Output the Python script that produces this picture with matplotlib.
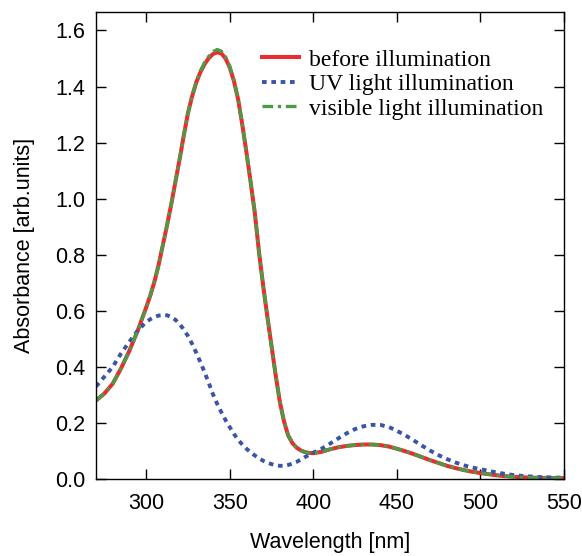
import matplotlib
matplotlib.use('Agg')
import matplotlib.pyplot as plt

# Absorption spectra; 2.5 nm sampling across the main band, 5 nm elsewhere
wavelength = ([270, 275, 280, 285, 290, 295]
              + [300 + 2.5 * i for i in range(41)]
              + list(range(405, 555, 5)))

before = [0.280, 0.305, 0.340, 0.395, 0.458, 0.530,
          0.612, 0.655, 0.705, 0.765, 0.835, 0.905, 0.980, 1.060, 1.140, 1.225,
          1.305, 1.365, 1.415, 1.452, 1.480, 1.502, 1.516, 1.522, 1.518, 1.500,
          1.468, 1.420, 1.355, 1.265, 1.165, 1.060, 0.950, 0.810, 0.690, 0.580,
          0.475, 0.370, 0.275, 0.205, 0.155, 0.128, 0.112, 0.102, 0.096, 0.093,
          0.092,
          0.097, 0.106, 0.113, 0.118, 0.121, 0.123, 0.123, 0.121, 0.116, 0.108,
          0.099, 0.089, 0.078, 0.067, 0.057, 0.047, 0.039, 0.032, 0.026, 0.021,
          0.017, 0.013, 0.010, 0.008, 0.006, 0.005, 0.004, 0.004, 0.003, 0.003]

uv = [0.330, 0.365, 0.400, 0.448, 0.490, 0.530,
      0.560, 0.570, 0.578, 0.583, 0.585, 0.584, 0.578, 0.568, 0.553, 0.533,
      0.510, 0.482, 0.450, 0.416, 0.380, 0.342, 0.302, 0.268, 0.238, 0.210,
      0.185, 0.161, 0.140, 0.123, 0.108, 0.095, 0.084, 0.074, 0.065, 0.058,
      0.053, 0.049, 0.047, 0.047, 0.050, 0.055, 0.061, 0.069, 0.078, 0.086,
      0.094,
      0.108, 0.126, 0.145, 0.163, 0.178, 0.188, 0.193, 0.193, 0.186, 0.172,
      0.156, 0.138, 0.119, 0.101, 0.085, 0.071, 0.059, 0.049, 0.041, 0.035,
      0.029, 0.023, 0.018, 0.014, 0.011, 0.009, 0.007, 0.006, 0.005, 0.005]

visible = [0.280, 0.305, 0.340, 0.395, 0.458, 0.530,
           0.612, 0.655, 0.705, 0.765, 0.835, 0.905, 0.980, 1.060, 1.140, 1.225,
           1.305, 1.366, 1.418, 1.456, 1.486, 1.508, 1.524, 1.532, 1.526, 1.506,
           1.472, 1.422, 1.356, 1.265, 1.165, 1.060, 0.950, 0.810, 0.690, 0.580,
           0.475, 0.370, 0.275, 0.205, 0.155, 0.128, 0.112, 0.102, 0.096, 0.093,
           0.092,
           0.097, 0.106, 0.113, 0.118, 0.121, 0.123, 0.123, 0.121, 0.116, 0.108,
           0.099, 0.089, 0.078, 0.067, 0.057, 0.047, 0.039, 0.032, 0.026, 0.021,
           0.017, 0.013, 0.010, 0.008, 0.006, 0.005, 0.004, 0.004, 0.003, 0.003]

x_ticks = [300, 350, 400, 450, 500, 550]
y_ticks = [0.0, 0.2, 0.4, 0.6, 0.8, 1.0, 1.2, 1.4, 1.6]

plt.rcParams['font.family'] = ['Liberation Sans', 'DejaVu Sans']

fig = plt.figure(figsize=(5.82, 5.56), dpi=100)
ax = fig.add_axes([0.165, 0.1385, 0.804, 0.8395])

ax.plot(wavelength, before, color='#ee2a2e', lw=2.9, solid_joinstyle='round',
        label='before illumination')
ax.plot(wavelength, uv, color='#3a55a5', lw=2.8, linestyle=(0, (1.2, 1.2)),
        label='UV light illumination')
ax.plot(wavelength, visible, color='#4c9a48', lw=2.4,
        linestyle=(0, (3.2, 1.4, 1.0, 1.4)), label='visible light illumination')

ax.set_xlim(270, 550)
ax.set_ylim(0, 1.665)
ax.set_xticks(x_ticks)
ax.set_yticks(y_ticks)
ax.set_yticklabels([f'{v:.1f}' for v in y_ticks])

ax.tick_params(direction='in', length=7, width=1.0, top=True, right=True,
               labelsize=15.5, colors='black')
ax.tick_params(axis='x', pad=10)
ax.tick_params(axis='y', pad=8)
for s in ax.spines.values():
    s.set_linewidth(1.0)

ax.set_xlabel('Wavelength [nm]', fontsize=15.5, labelpad=13)
ax.set_ylabel('Absorbance [arb.units]', fontsize=15.5, labelpad=14)

leg = ax.legend(loc='upper left', bbox_to_anchor=(262 / 582, 1 - 49 / 556),
                bbox_transform=fig.transFigure, frameon=False,
                prop={'family': 'Liberation Serif', 'size': 17},
                handlelength=1.57, handletextpad=0.42, labelspacing=0.13,
                borderpad=0, borderaxespad=0)

fig.savefig('out.png', dpi=100)
